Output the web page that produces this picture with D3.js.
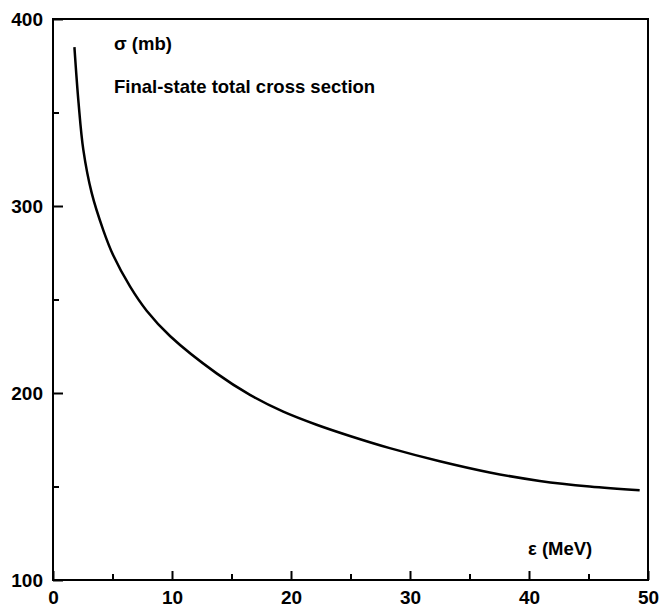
<!DOCTYPE html>
<html>
<head>
<meta charset="utf-8">
<script src="https://cdn.jsdelivr.net/npm/d3@7"></script>
<style>
  body { margin: 0; background: #fff; }
  svg text { font-family: "Liberation Sans", Arial, sans-serif; font-weight: bold; fill: #000; }
</style>
</head>
<body>
<svg id="chart" width="660" height="609"></svg>
<script>
// curve: energy (MeV) vs cross section (mb)
const energy = [1.8, 2.15, 2.55, 3.25, 4.23, 5.07, 6.47, 7.87, 9.83, 13.75, 16.55, 19.35, 22.15, 24.95, 28.3, 32.5, 36.7, 40.9, 45.1, 49.3];
const sigma = [385, 355, 330, 307, 287, 273.5, 257, 244, 230.5, 210.5, 199, 190, 183, 177, 170.5, 163.5, 157.5, 153, 150, 148];

const xMajor = [0, 10, 20, 30, 40, 50];
const xMinor = [5, 15, 25, 35, 45];
const yMajor = [100, 200, 300, 400];
const yMinor = [150, 250, 350];

const margin = { top: 19, right: 12, bottom: 29, left: 53 };
const width = 660 - margin.left - margin.right;
const height = 609 - margin.top - margin.bottom;

const svg = d3.select('#chart');
const g = svg.append('g')
  .attr('transform', `translate(${margin.left},${margin.top})`);

const x = d3.scaleLinear().domain([0, 50]).range([0, width]);
const y = d3.scaleLinear().domain([100, 400]).range([height, 0]);

// frame
g.append('rect')
  .attr('width', width)
  .attr('height', height)
  .attr('fill', 'none')
  .attr('stroke', '#000')
  .attr('stroke-width', 2);

// bottom axis, ticks pointing inward
const xAxis = g.append('g')
  .attr('transform', `translate(0,${height})`)
  .call(d3.axisBottom(x).tickValues(xMajor).tickSizeInner(-9).tickSizeOuter(0).tickPadding(8));
g.append('g')
  .attr('transform', `translate(0,${height})`)
  .call(d3.axisBottom(x).tickValues(xMinor).tickSizeInner(-6).tickSizeOuter(0).tickFormat(''));

// left axis
const yAxis = g.append('g')
  .call(d3.axisLeft(y).tickValues(yMajor).tickSizeInner(-10).tickSizeOuter(0).tickPadding(10));
g.append('g')
  .call(d3.axisLeft(y).tickValues(yMinor).tickSizeInner(-6).tickSizeOuter(0).tickFormat(''));

g.selectAll('.domain').remove();
g.selectAll('.tick line').attr('stroke', '#000').attr('stroke-width', 2);
xAxis.selectAll('text').attr('font-size', 19).attr('dy', '0.85em');
yAxis.selectAll('text').attr('font-size', 19).attr('dy', '0.36em');

// the curve
const line = d3.line()
  .x((d, i) => x(energy[i]))
  .y(d => y(d))
  .curve(d3.curveCatmullRom.alpha(0.5));

g.append('path')
  .datum(sigma)
  .attr('d', line)
  .attr('fill', 'none')
  .attr('stroke', '#000')
  .attr('stroke-width', 2.5);

// labels
svg.append('text')
  .attr('x', 114).attr('y', 50)
  .attr('font-size', 18.5)
  .text('σ (mb)');

svg.append('text')
  .attr('x', 114).attr('y', 93)
  .attr('font-size', 18.5)
  .text('Final-state total cross section');

svg.append('text')
  .attr('x', 528).attr('y', 555)
  .attr('font-size', 18.5)
  .text('ε (MeV)');
</script>
</body>
</html>
